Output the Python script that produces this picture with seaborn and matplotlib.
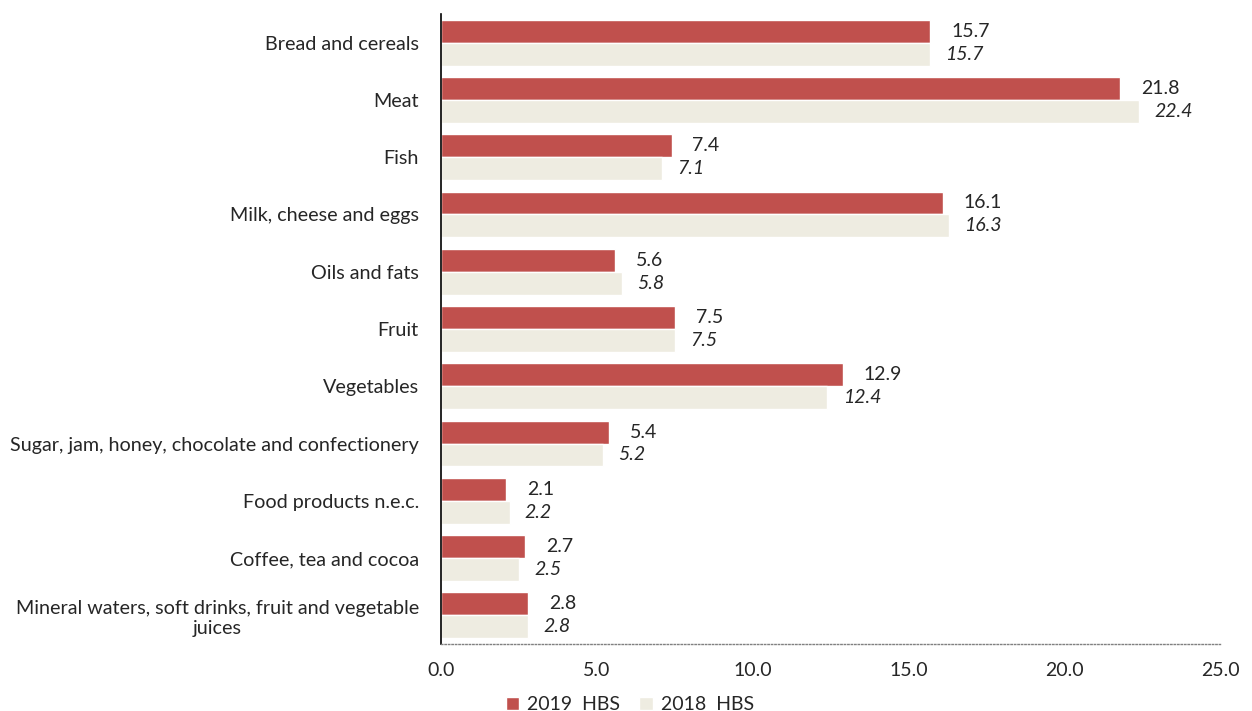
import matplotlib
matplotlib.use("Agg")
import matplotlib.pyplot as plt
import seaborn as sns
import pandas as pd
from matplotlib.ticker import FixedLocator

categories = [
    "Bread and cereals",
    "Meat",
    "Fish",
    "Milk, cheese and eggs",
    "Oils and fats",
    "Fruit",
    "Vegetables",
    "Sugar, jam, honey, chocolate and confectionery",
    "Food products n.e.c.",
    "Coffee, tea and cocoa",
    "Mineral waters, soft drinks, fruit and vegetable\njuices",
]
values_2019 = [15.7, 21.8, 7.4, 16.1, 5.6, 7.5, 12.9, 5.4, 2.1, 2.7, 2.8]
values_2018 = [15.7, 22.4, 7.1, 16.3, 5.8, 7.5, 12.4, 5.2, 2.2, 2.5, 2.8]
series_names = ["2019  HBS", "2018  HBS"]
x_ticks = [0, 5, 10, 15, 20, 25]

colors = ["#C0504D", "#EEECE1"]

sns.set_style("white")
plt.rcParams["font.family"] = ["Lato", "DejaVu Sans"]

df = pd.DataFrame({
    "category": categories * 2,
    "value": values_2019 + values_2018,
    "series": [series_names[0]] * len(categories) + [series_names[1]] * len(categories),
})

fig = plt.figure(figsize=(12.52, 7.11), dpi=100)
ax = fig.add_axes([441 / 1252, 1 - 644 / 711, (1220 - 441) / 1252, (644 - 14) / 711])

sns.barplot(data=df, y="category", x="value", hue="series", orient="h",
            palette=colors, width=0.8, ax=ax, legend=True, saturation=1)

ax.set_xlim(0, 25)
ax.set_ylim(len(categories) - 0.5, -0.5)
ax.set_xlabel("")
ax.set_ylabel("")
ax.set_xticks(x_ticks)
ax.set_xticklabels([f"{t:.1f}" for t in x_ticks], fontsize=14)
ax.tick_params(axis="x", direction="out", length=4, color="#808080", pad=9)
ax.tick_params(axis="y", which="major", length=0, labelsize=14.2, pad=16)
ax.yaxis.set_minor_locator(FixedLocator([i - 0.5 for i in range(len(categories) + 1)]))
ax.tick_params(axis="y", which="minor", length=6, width=1.2, color="black", direction="out")
for lab in ax.get_yticklabels():
    lab.set_multialignment("center")

for s in ["top", "right"]:
    ax.spines[s].set_visible(False)
ax.spines["left"].set_color("black")
ax.spines["left"].set_linewidth(1.2)
ax.spines["bottom"].set_color("#808080")
ax.spines["bottom"].set_linestyle((0, (1, 1.5)))
ax.spines["bottom"].set_linewidth(1)

# data labels
for i, cont in enumerate(ax.containers):
    style = "normal" if i == 0 else "italic"
    pad = 15 if i == 0 else 11
    ax.bar_label(cont, labels=[f"{v:.1f}" for v in cont.datavalues],
                 padding=pad, fontsize=14, fontstyle=style)

handles, labels = ax.get_legend_handles_labels()
ax.get_legend().remove()
fig.legend(handles, labels, loc="lower center", bbox_to_anchor=(0.503, -0.028),
           ncol=2, frameon=False, fontsize=14, handlelength=0.7, handleheight=0.7,
           columnspacing=1.0, handletextpad=0.4)

fig.savefig("out.png", dpi=100)
